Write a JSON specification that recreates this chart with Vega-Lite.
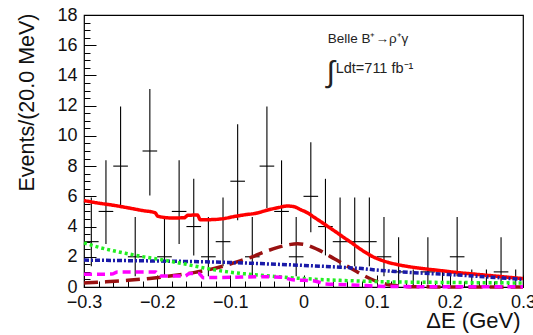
{
  "$schema": "https://vega.github.io/schema/vega-lite/v6.json",
  "width": 439,
  "height": 272,
  "autosize": {"type": "none"},
  "padding": {"left": 84, "top": 15, "right": 10, "bottom": 48},
  "config": {
    "font": "Liberation Sans",
    "view": {"stroke": "black", "strokeWidth": 1.2}
  },
  "datasets": {
    "points": [
      {"c": -0.29, "n": 3, "lo": 1.37, "hi": 5.92, "xlo": -0.3, "xhi": -0.28},
      {"c": -0.27, "n": 5, "lo": 2.84, "hi": 8.38, "xlo": -0.28, "xhi": -0.26},
      {"c": -0.25, "n": 8, "lo": 5.23, "hi": 11.95, "xlo": -0.26, "xhi": -0.24},
      {"c": -0.23, "n": 2, "lo": 0.71, "hi": 4.64, "xlo": -0.24, "xhi": -0.22},
      {"c": -0.21, "n": 9, "lo": 6.06, "hi": 13.11, "xlo": -0.22, "xhi": -0.2},
      {"c": -0.19, "n": 2, "lo": 0.71, "hi": 4.64, "xlo": -0.2, "xhi": -0.18},
      {"c": -0.17, "n": 5, "lo": 2.84, "hi": 8.38, "xlo": -0.18, "xhi": -0.16},
      {"c": -0.15, "n": 4, "lo": 2.09, "hi": 7.16, "xlo": -0.16, "xhi": -0.14},
      {"c": -0.13, "n": 2, "lo": 0.71, "hi": 4.64, "xlo": -0.14, "xhi": -0.12},
      {"c": -0.11, "n": 3, "lo": 1.37, "hi": 5.92, "xlo": -0.12, "xhi": -0.1},
      {"c": -0.09, "n": 7, "lo": 4.42, "hi": 10.77, "xlo": -0.1, "xhi": -0.08},
      {"c": -0.07, "n": 2, "lo": 0.71, "hi": 4.64, "xlo": -0.08, "xhi": -0.06},
      {"c": -0.05, "n": 8, "lo": 5.23, "hi": 11.95, "xlo": -0.06, "xhi": -0.04},
      {"c": -0.03, "n": 5, "lo": 2.84, "hi": 8.38, "xlo": -0.04, "xhi": -0.02},
      {"c": -0.01, "n": 2, "lo": 0.71, "hi": 4.64, "xlo": -0.02, "xhi": 0.0},
      {"c": 0.01, "n": 6, "lo": 3.62, "hi": 9.58, "xlo": 0.0, "xhi": 0.02},
      {"c": 0.03, "n": 4, "lo": 2.09, "hi": 7.16, "xlo": 0.02, "xhi": 0.04},
      {"c": 0.05, "n": 3, "lo": 1.37, "hi": 5.92, "xlo": 0.04, "xhi": 0.06},
      {"c": 0.07, "n": 3, "lo": 1.37, "hi": 5.92, "xlo": 0.06, "xhi": 0.08},
      {"c": 0.09, "n": 3, "lo": 1.37, "hi": 5.92, "xlo": 0.08, "xhi": 0.1},
      {"c": 0.11, "n": 2, "lo": 0.71, "hi": 4.64, "xlo": 0.1, "xhi": 0.12},
      {"c": 0.13, "n": 1, "lo": 0.17, "hi": 3.3, "xlo": 0.12, "xhi": 0.14},
      {"c": 0.15, "n": 0, "lo": 0.0, "hi": 1.15, "xlo": 0.14, "xhi": 0.16},
      {"c": 0.17, "n": 1, "lo": 0.17, "hi": 3.3, "xlo": 0.16, "xhi": 0.18},
      {"c": 0.19, "n": 0, "lo": 0.0, "hi": 1.15, "xlo": 0.18, "xhi": 0.2},
      {"c": 0.21, "n": 2, "lo": 0.71, "hi": 4.64, "xlo": 0.2, "xhi": 0.22},
      {"c": 0.23, "n": 0, "lo": 0.0, "hi": 1.15, "xlo": 0.22, "xhi": 0.24},
      {"c": 0.25, "n": 0, "lo": 0.0, "hi": 1.15, "xlo": 0.24, "xhi": 0.26},
      {"c": 0.27, "n": 1, "lo": 0.17, "hi": 3.3, "xlo": 0.26, "xhi": 0.28},
      {"c": 0.29, "n": 0, "lo": 0.0, "hi": 1.15, "xlo": 0.28, "xhi": 0.3}
    ],
    "curves": [
      {"comp": "total", "x": -0.3, "v": 5.72}, {"comp": "total", "x": -0.28, "v": 5.55}, {"comp": "total", "x": -0.26, "v": 5.41},
      {"comp": "total", "x": -0.24, "v": 5.24}, {"comp": "total", "x": -0.22, "v": 5.06}, {"comp": "total", "x": -0.203, "v": 4.92},
      {"comp": "total", "x": -0.199, "v": 4.68}, {"comp": "total", "x": -0.18, "v": 4.57}, {"comp": "total", "x": -0.163, "v": 4.58},
      {"comp": "total", "x": -0.158, "v": 4.75}, {"comp": "total", "x": -0.145, "v": 4.76}, {"comp": "total", "x": -0.141, "v": 4.45},
      {"comp": "total", "x": -0.125, "v": 4.46}, {"comp": "total", "x": -0.11, "v": 4.52}, {"comp": "total", "x": -0.095, "v": 4.66},
      {"comp": "total", "x": -0.08, "v": 4.78}, {"comp": "total", "x": -0.065, "v": 4.88}, {"comp": "total", "x": -0.05, "v": 5.08},
      {"comp": "total", "x": -0.035, "v": 5.25}, {"comp": "total", "x": -0.022, "v": 5.36}, {"comp": "total", "x": -0.012, "v": 5.3},
      {"comp": "total", "x": -0.004, "v": 5.12}, {"comp": "total", "x": 0.005, "v": 4.92}, {"comp": "total", "x": 0.015, "v": 4.6},
      {"comp": "total", "x": 0.025, "v": 4.28}, {"comp": "total", "x": 0.035, "v": 3.95}, {"comp": "total", "x": 0.045, "v": 3.62},
      {"comp": "total", "x": 0.055, "v": 3.28}, {"comp": "total", "x": 0.065, "v": 2.95}, {"comp": "total", "x": 0.075, "v": 2.6},
      {"comp": "total", "x": 0.085, "v": 2.28}, {"comp": "total", "x": 0.095, "v": 2.0}, {"comp": "total", "x": 0.105, "v": 1.8},
      {"comp": "total", "x": 0.115, "v": 1.64}, {"comp": "total", "x": 0.125, "v": 1.52}, {"comp": "total", "x": 0.14, "v": 1.38},
      {"comp": "total", "x": 0.155, "v": 1.27}, {"comp": "total", "x": 0.17, "v": 1.18}, {"comp": "total", "x": 0.19, "v": 1.07},
      {"comp": "total", "x": 0.21, "v": 0.96}, {"comp": "total", "x": 0.23, "v": 0.87}, {"comp": "total", "x": 0.25, "v": 0.78},
      {"comp": "total", "x": 0.27, "v": 0.69}, {"comp": "total", "x": 0.29, "v": 0.6}, {"comp": "total", "x": 0.3, "v": 0.56},

      {"comp": "signal", "x": -0.3, "v": 0.27}, {"comp": "signal", "x": -0.27, "v": 0.34}, {"comp": "signal", "x": -0.24, "v": 0.44},
      {"comp": "signal", "x": -0.21, "v": 0.57}, {"comp": "signal", "x": -0.18, "v": 0.74}, {"comp": "signal", "x": -0.15, "v": 0.95},
      {"comp": "signal", "x": -0.13, "v": 1.14}, {"comp": "signal", "x": -0.11, "v": 1.38}, {"comp": "signal", "x": -0.09, "v": 1.68},
      {"comp": "signal", "x": -0.07, "v": 2.0}, {"comp": "signal", "x": -0.05, "v": 2.38}, {"comp": "signal", "x": -0.035, "v": 2.62},
      {"comp": "signal", "x": -0.02, "v": 2.8}, {"comp": "signal", "x": -0.008, "v": 2.86}, {"comp": "signal", "x": 0.003, "v": 2.8},
      {"comp": "signal", "x": 0.012, "v": 2.64}, {"comp": "signal", "x": 0.022, "v": 2.42}, {"comp": "signal", "x": 0.032, "v": 2.15},
      {"comp": "signal", "x": 0.042, "v": 1.87}, {"comp": "signal", "x": 0.052, "v": 1.6}, {"comp": "signal", "x": 0.062, "v": 1.32},
      {"comp": "signal", "x": 0.072, "v": 1.04}, {"comp": "signal", "x": 0.082, "v": 0.77}, {"comp": "signal", "x": 0.092, "v": 0.53},
      {"comp": "signal", "x": 0.102, "v": 0.34}, {"comp": "signal", "x": 0.112, "v": 0.2}, {"comp": "signal", "x": 0.122, "v": 0.11},
      {"comp": "signal", "x": 0.135, "v": 0.05}, {"comp": "signal", "x": 0.15, "v": 0.02}, {"comp": "signal", "x": 0.18, "v": 0.005},
      {"comp": "signal", "x": 0.22, "v": 0.0}, {"comp": "signal", "x": 0.3, "v": 0.0},

      {"comp": "blue", "x": -0.3, "v": 1.78}, {"comp": "blue", "x": -0.25, "v": 1.75}, {"comp": "blue", "x": -0.2, "v": 1.72},
      {"comp": "blue", "x": -0.15, "v": 1.68}, {"comp": "blue", "x": -0.1, "v": 1.62}, {"comp": "blue", "x": -0.05, "v": 1.53},
      {"comp": "blue", "x": 0.0, "v": 1.43}, {"comp": "blue", "x": 0.05, "v": 1.31}, {"comp": "blue", "x": 0.08, "v": 1.22},
      {"comp": "blue", "x": 0.1, "v": 1.12}, {"comp": "blue", "x": 0.125, "v": 1.03}, {"comp": "blue", "x": 0.15, "v": 0.95},
      {"comp": "blue", "x": 0.2, "v": 0.82}, {"comp": "blue", "x": 0.25, "v": 0.67}, {"comp": "blue", "x": 0.3, "v": 0.5},

      {"comp": "green", "x": -0.3, "v": 2.92}, {"comp": "green", "x": -0.28, "v": 2.63}, {"comp": "green", "x": -0.26, "v": 2.4},
      {"comp": "green", "x": -0.24, "v": 2.2}, {"comp": "green", "x": -0.22, "v": 2.01}, {"comp": "green", "x": -0.2, "v": 1.85},
      {"comp": "green", "x": -0.18, "v": 1.68}, {"comp": "green", "x": -0.16, "v": 1.5}, {"comp": "green", "x": -0.14, "v": 1.3},
      {"comp": "green", "x": -0.12, "v": 1.12}, {"comp": "green", "x": -0.1, "v": 0.98}, {"comp": "green", "x": -0.08, "v": 0.87},
      {"comp": "green", "x": -0.06, "v": 0.78}, {"comp": "green", "x": -0.04, "v": 0.7}, {"comp": "green", "x": -0.02, "v": 0.62},
      {"comp": "green", "x": 0.0, "v": 0.56}, {"comp": "green", "x": 0.02, "v": 0.5}, {"comp": "green", "x": 0.05, "v": 0.44},
      {"comp": "green", "x": 0.1, "v": 0.36}, {"comp": "green", "x": 0.15, "v": 0.32}, {"comp": "green", "x": 0.2, "v": 0.3},
      {"comp": "green", "x": 0.25, "v": 0.28}, {"comp": "green", "x": 0.3, "v": 0.27},

      {"comp": "magenta", "x": -0.3, "v": 0.84}, {"comp": "magenta", "x": -0.262, "v": 0.86}, {"comp": "magenta", "x": -0.254, "v": 1.0},
      {"comp": "magenta", "x": -0.202, "v": 1.0}, {"comp": "magenta", "x": -0.196, "v": 0.72}, {"comp": "magenta", "x": -0.162, "v": 0.72},
      {"comp": "magenta", "x": -0.156, "v": 0.9}, {"comp": "magenta", "x": -0.143, "v": 0.9}, {"comp": "magenta", "x": -0.137, "v": 0.62},
      {"comp": "magenta", "x": -0.1, "v": 0.64}, {"comp": "magenta", "x": -0.06, "v": 0.68}, {"comp": "magenta", "x": -0.03, "v": 0.64},
      {"comp": "magenta", "x": -0.015, "v": 0.48}, {"comp": "magenta", "x": 0.015, "v": 0.4}, {"comp": "magenta", "x": 0.03, "v": 0.2},
      {"comp": "magenta", "x": 0.06, "v": 0.15}, {"comp": "magenta", "x": 0.09, "v": 0.08}, {"comp": "magenta", "x": 0.12, "v": 0.03},
      {"comp": "magenta", "x": 0.2, "v": 0.02}, {"comp": "magenta", "x": 0.3, "v": 0.02}
    ]
  },
  "resolve": {"axis": {"x": "independent", "y": "independent"}},
  "layer": [
    {
      "data": {"name": "points"},
      "mark": {"type": "rule", "color": "black", "strokeWidth": 1.1},
      "encoding": {
        "x": {"field": "c", "type": "quantitative",
              "scale": {"domain": [-0.3, 0.3], "nice": false, "zero": false},
              "axis": {"orient": "bottom", "tickCount": 6, "domain": false, "gridOpacity": 0,
                       "ticks": true, "tickSize": -12, "tickColor": "black",
                       "labelFontSize": 18, "labelPadding": 18, "labelFlush": false, "labelColor": "#111",
                       "labelExpr": "datum.value == 0 ? '0' : replace(format(datum.value, '.1f'), '-', '−')",
                       "title": "ΔE (GeV)", "titleFontSize": 22, "titleFontWeight": "normal", "titleColor": "#111",
                       "titleAnchor": "end", "titleAlign": "right",
                       "titleX": 436, "titleY": 40, "titleBaseline": "alphabetic"}},
        "y": {"field": "lo", "type": "quantitative",
              "scale": {"domain": [0, 18], "nice": false, "zero": false},
              "axis": {"orient": "left", "tickCount": 9, "domain": false, "gridOpacity": 0,
                       "ticks": true, "tickSize": -12, "tickColor": "black",
                       "labelFontSize": 18, "labelPadding": 19, "format": "d", "labelColor": "#111",
                       "title": "Events/(20.0 MeV)", "titleFontSize": 21.5, "titleFontWeight": "normal", "titleColor": "#111",
                       "titleAnchor": "end", "titleAlign": "right",
                       "titleAngle": -90, "titleX": -51, "titleY": -2, "titleBaseline": "alphabetic"}},
        "y2": {"field": "hi"}
      }
    },
    {
      "data": {"name": "points"},
      "mark": {"type": "rule", "color": "black", "strokeWidth": 1.1},
      "encoding": {
        "x": {"field": "xlo", "type": "quantitative",
              "scale": {"domain": [-0.3, 0.3], "nice": false, "zero": false},
              "axis": {"orient": "bottom", "tickCount": 30, "labels": true, "labelOpacity": 0, "domain": false, "gridOpacity": 0,
                       "ticks": true, "tickSize": -6, "tickColor": "black", "title": null}},
        "x2": {"field": "xhi"},
        "y": {"field": "n", "type": "quantitative",
              "scale": {"domain": [0, 18], "nice": false, "zero": false},
              "axis": {"orient": "left", "tickCount": 36, "labels": true, "labelOpacity": 0, "domain": false, "gridOpacity": 0,
                       "ticks": true, "tickSize": -6, "tickColor": "black", "title": null}}
      }
    },
    {
      "data": {"name": "curves"},
      "mark": {"type": "line", "interpolate": "monotone"},
      "encoding": {
        "x": {"field": "x", "type": "quantitative", "scale": {"domain": [-0.3, 0.3], "nice": false, "zero": false}, "axis": null},
        "y": {"field": "v", "type": "quantitative", "scale": {"domain": [0, 18], "nice": false, "zero": false}, "axis": null},
        "color": {"field": "comp", "type": "nominal", "legend": null,
                  "scale": {"domain": ["total", "signal", "blue", "green", "magenta"],
                            "range": ["#ff0000", "#991111", "#1a1aa8", "#22ee22", "#ff00ff"]}},
        "strokeDash": {"field": "comp", "type": "nominal", "legend": null,
                       "scale": {"domain": ["total", "signal", "blue", "green", "magenta"],
                                 "range": [[1, 0], [14, 7], [5, 2, 2, 2], [3, 3], [8, 5]]}},
        "strokeWidth": {"field": "comp", "type": "nominal", "legend": null,
                        "scale": {"domain": ["total", "signal", "blue", "green", "magenta"],
                                  "range": [3.5, 3.5, 3, 3.5, 4]}}
      }
    },
    {
      "data": {"values": [{"x": 0.033, "y": 16.13, "t": "Belle B⁺→ρ⁺γ"}]},
      "mark": {"type": "text", "align": "left", "baseline": "alphabetic", "fontSize": 13.5, "color": "#222"},
      "encoding": {
        "x": {"field": "x", "type": "quantitative", "axis": null},
        "y": {"field": "y", "type": "quantitative", "axis": null},
        "text": {"field": "t"}
      }
    },
    {
      "data": {"values": [{"x": 0.037, "y": 14.17, "t": "∫"}]},
      "mark": {"type": "text", "align": "center", "baseline": "middle", "fontSize": 30, "color": "#222"},
      "encoding": {
        "x": {"field": "x", "type": "quantitative", "axis": null},
        "y": {"field": "y", "type": "quantitative", "axis": null},
        "text": {"field": "t"}
      }
    },
    {
      "data": {"values": [{"x": 0.044, "y": 14.15, "t": "Ldt=711 fb⁻¹"}]},
      "mark": {"type": "text", "align": "left", "baseline": "alphabetic", "fontSize": 14.5, "color": "#222"},
      "encoding": {
        "x": {"field": "x", "type": "quantitative", "axis": null},
        "y": {"field": "y", "type": "quantitative", "axis": null},
        "text": {"field": "t"}
      }
    }
  ]
}
